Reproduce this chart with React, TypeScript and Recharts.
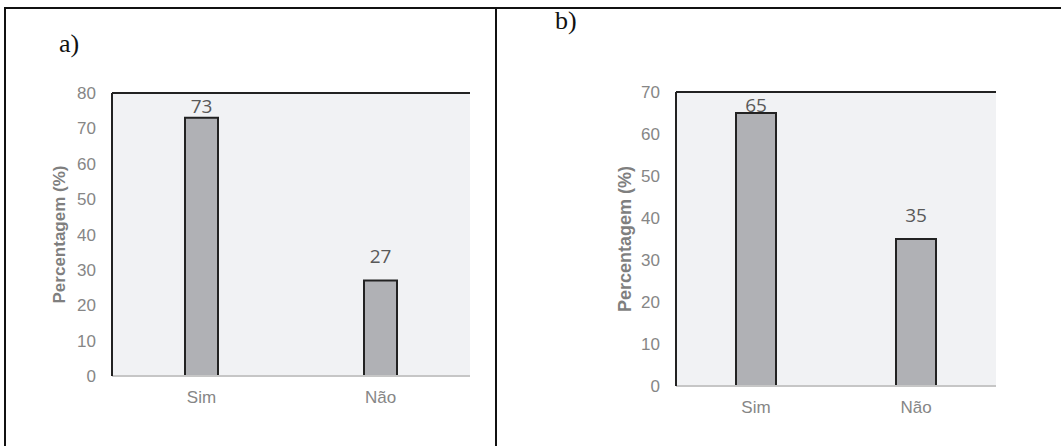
import { Bar, BarChart, CartesianGrid, LabelList, ReferenceLine, XAxis, YAxis } from 'recharts';

const categories = ['Sim', 'Não'];
const valuesA = [73, 27];
const valuesB = [65, 35];
const ticksA = [0, 10, 20, 30, 40, 50, 60, 70, 80];
const ticksB = [0, 10, 20, 30, 40, 50, 60, 70];

const dataA = categories.map((cat, i) => ({ cat, value: valuesA[i] }));
const dataB = categories.map((cat, i) => ({ cat, value: valuesB[i] }));

const tickStyle = { fill: '#868686', fontSize: 17, fontFamily: 'Liberation Sans, Arial, sans-serif' };

// value label sits above the bar, but never closer to the plot top than a fixed gap
const valueLabel = (plotTop: number) => (props: any) => {
  const { x, y, width, value } = props;
  const cy = Math.max(Number(y) - 24, plotTop + 12.5);
  return (
    <text
      x={Number(x) + Number(width) / 2}
      y={cy}
      textAnchor="middle"
      dominantBaseline="central"
      fill="#595959"
      fontSize={19}
      fontFamily="Open Sans, sans-serif"
    >
      {value}
    </text>
  );
};

type PanelProps = {
  data: { cat: string; value: number }[];
  ticks: number[];
  width: number;
  margin: { top: number; right: number; bottom: number; left: number };
  barSize: number;
  labelOffset: number;
  labelSize: number;
};

function Panel({ data, ticks, width, margin, barSize, labelOffset, labelSize }: PanelProps) {
  const max = ticks[ticks.length - 1];
  return (
    <BarChart width={width} height={446} data={data} margin={margin}>
      <CartesianGrid horizontal={false} vertical={false} fill="#f1f2f4" />
      <XAxis
        dataKey="cat"
        height={50}
        tick={tickStyle}
        tickLine={false}
        tickSize={0}
        tickMargin={15}
        axisLine={{ stroke: '#c6c6c6', strokeWidth: 2 }}
      />
      <YAxis
        width={60}
        domain={[0, max]}
        ticks={ticks}
        interval={0}
        tick={tickStyle}
        tickLine={false}
        tickSize={0}
        tickMargin={16}
        axisLine={{ stroke: '#222', strokeWidth: 2 }}
        label={{
          value: 'Percentagem (%)',
          angle: -90,
          position: 'insideLeft',
          offset: labelOffset,
          style: {
            textAnchor: 'middle',
            fill: '#7f7f7f',
            fontSize: labelSize,
            fontWeight: 'bold',
            fontFamily: 'Liberation Sans, Arial, sans-serif',
          },
        }}
      />
      <YAxis
        yAxisId="right"
        orientation="right"
        width={0}
        domain={[0, max]}
        tick={false}
        tickLine={false}
        axisLine={{ stroke: '#333', strokeWidth: 2 }}
      />
      <ReferenceLine y={max} stroke="#222" strokeWidth={2} />
      <Bar dataKey="value" fill="#b0b1b5" stroke="#222" strokeWidth={2} barSize={barSize} isAnimationActive={false}>
        <LabelList dataKey="value" content={valueLabel(margin.top)} />
      </Bar>
    </BarChart>
  );
}

const panelLetter = {
  position: 'absolute' as const,
  fontFamily: 'Liberation Serif, Times New Roman, serif',
  fontSize: 26,
  lineHeight: '30px',
  color: '#111',
};

export default function App() {
  return (
    <div
      style={{
        position: 'absolute',
        left: 0,
        top: 0,
        width: 1061,
        height: 446,
        overflow: 'hidden',
        background: '#fff',
      }}
    >
      <div
        style={{
          position: 'absolute',
          left: 4,
          top: 7,
          width: 1100,
          height: 500,
          borderTop: '2px solid #111',
          borderLeft: '2px solid #111',
        }}
      />
      <div style={{ position: 'absolute', left: 495, top: 7, width: 2, height: 450, background: '#111' }} />
      <div style={{ ...panelLetter, left: 59, top: 29 }}>a)</div>
      <div style={{ ...panelLetter, left: 555, top: 6 }}>b)</div>
      <div style={{ position: 'absolute', left: 0, top: 0 }}>
        <Panel
          data={dataA}
          ticks={ticksA}
          width={496}
          margin={{ top: 93, right: 26, bottom: 20, left: 52 }}
          barSize={33}
          labelOffset={7}
          labelSize={17}
        />
      </div>
      <div style={{ position: 'absolute', left: 497, top: 0 }}>
        <Panel
          data={dataB}
          ticks={ticksB}
          width={564}
          margin={{ top: 92, right: 65, bottom: 10, left: 119 }}
          barSize={40}
          labelOffset={9}
          labelSize={18}
        />
      </div>
    </div>
  );
}
